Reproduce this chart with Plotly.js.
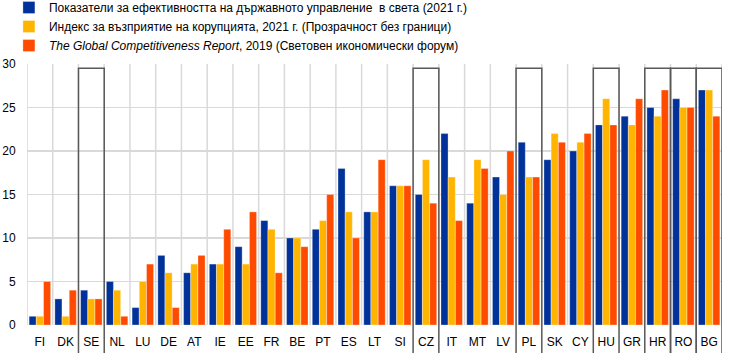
<!DOCTYPE html>
<html>
<head>
<meta charset="utf-8">
<script src="https://cdn.plot.ly/plotly-3.0.1.min.js"></script>
<style>html,body{margin:0;padding:0;background:#fff;}#chart{width:743px;height:353px;}</style>
</head>
<body>
<div id="chart"></div>
<script>
const countries = ["FI","DK","SE","NL","LU","DE","AT","IE","EE","FR","BE","PT","ES","LT","SI","CZ","IT","MT","LV","PL","SK","CY","HU","GR","HR","RO","BG"];
const governance = [1,3,4,5,2,8,6,7,9,12,10,11,18,13,16,15,22,14,17,21,19,20,23,24,25,26,27];
const corruption = [1,1,3,4,5,6,7,7,7,11,10,12,13,13,16,19,17,19,15,17,22,21,26,23,24,25,27];
const competitiveness = [5,4,3,1,7,2,8,11,13,6,9,15,10,19,16,14,12,18,20,17,21,22,23,26,27,25,24];
const highlighted = ["SE","CZ","PL","HU","HR","RO","BG"];
const seriesNames = [
  "Показатели за ефективността на държавното управление  в света (2021 г.)",
  "Индекс за възприятие на корупцията, 2021 г. (Прозрачност без граници)",
  "<i>The Global Competitiveness Report</i>, 2019 (Световен икономически форум)"
];
const colors = ["#003299","#FFB400","#FF4B00"];

const series = [governance, corruption, competitiveness];
const traces = series.map((vals, k) => ({
  type: "bar",
  x: countries,
  y: vals,
  name: seriesNames[k],
  marker: {color: colors[k], line: {color: "rgba(255,255,255,0.6)", width: 0.5}},
  hoverinfo: "x+y"
}));

const shapes = [];
for (let i = 0; i <= countries.length; i++) {
  shapes.push({type: "line", xref: "x", yref: "paper", x0: i - 0.5, x1: i - 0.5, y0: 0, y1: 1,
    line: {color: "#d9d9d9", width: 1.5}, layer: "below"});
}
highlighted.forEach(c => {
  const i = countries.indexOf(c);
  shapes.push({type: "rect", xref: "x", yref: "paper", x0: i - 0.5, x1: i + 0.5, y0: -0.12, y1: 29.5 / 30,
    line: {color: "#595959", width: 1.5}, fillcolor: "rgba(0,0,0,0)", layer: "above"});
});

const layout = {
  width: 743, height: 353,
  margin: {l: 27, r: 21, t: 64, b: 28, autoexpand: false},
  paper_bgcolor: "#fff", plot_bgcolor: "#fff",
  font: {family: "Liberation Sans, Arial, sans-serif", size: 12, color: "#000"},
  barmode: "group",
  bargap: 0.16,
  bargroupgap: 0.02,
  showlegend: true,
  legend: {
    xref: "container", yref: "paper", x: 0.012, y: 1.272, xanchor: "left", yanchor: "top",
    bgcolor: "rgba(0,0,0,0)", font: {size: 12, color: "#000"}, tracegroupgap: 0,
    itemwidth: 30
  },
  xaxis: {
    type: "category", range: [-0.5, countries.length - 0.5],
    showgrid: false, zeroline: false, showline: false,
    ticks: "outside", ticklen: 6, tickcolor: "rgba(0,0,0,0)",
    tickfont: {size: 12, color: "#000"}, fixedrange: true, automargin: false
  },
  yaxis: {
    range: [0, 30], tickvals: [0,5,10,15,20,25,30],
    showgrid: true, gridcolor: "#d9d9d9", gridwidth: 1.5,
    zeroline: false, showline: false,
    ticks: "outside", ticklen: 8, tickcolor: "rgba(0,0,0,0)",
    tickfont: {size: 12, color: "#000"}, fixedrange: true, automargin: false
  },
  shapes: shapes
};

Plotly.newPlot("chart", traces, layout, {displayModeBar: false, staticPlot: true});
</script>
</body>
</html>
